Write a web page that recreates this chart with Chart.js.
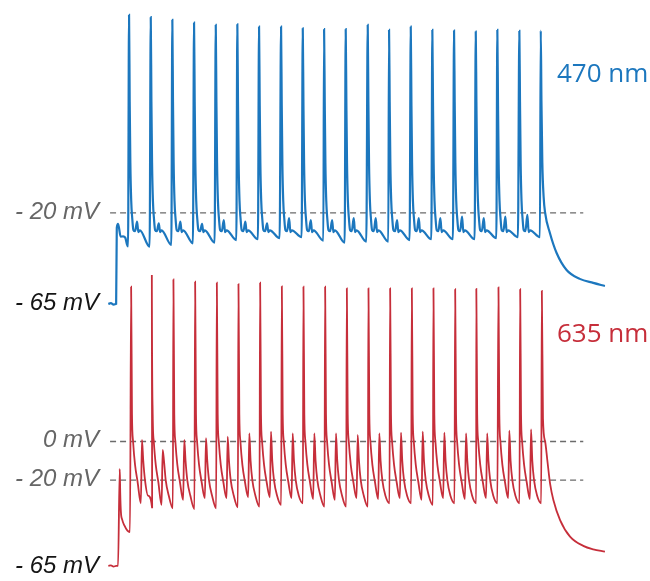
<!DOCTYPE html>
<html>
<head>
<meta charset="utf-8">
<title>470 nm / 635 nm spike trains</title>
<script src="https://cdn.jsdelivr.net/npm/chart.js@4/dist/chart.umd.min.js"></script>
<style>
  html, body { margin: 0; padding: 0; background: #fff; }
  #wrap { width: 650px; height: 581px; position: relative; }
</style>
</head>
<body>
<div id="wrap"><canvas id="chart"></canvas></div>
<script>
// ------------------ Data --------------------
// time in ms from light onset, membrane potential in mV

var traceNames = ["470 nm", "635 nm"];

// 470 nm
var blueOnsetTimes  = [-18, -12, -6, 0, 1.5, 4.5, 10.5, 16, 21, 25, 27.5];
var blueOnsetValues = [-65, -64.6, -65.3, -65, -27.4, -25.4, -31.7, -31.6, -32.2, -35.5, -36.6];
var blueSpikeTimes = [29.8, 79.9, 129.7, 179.8, 229.9, 279.7, 329.8, 380.6, 430.7, 479.9,
                      529.8, 580.6, 629.8, 679.9, 729.7, 779.8, 829.9, 879.7, 930.5, 979.9];
var bluePeaks = [77.9, 76.8, 75.5, 74.1, 73.0, 73.3, 72.1, 72.1, 71.3, 70.9,
                 70.9, 73.0, 70.5, 72.1, 70.5, 70.2, 69.7, 70.5, 70.0, 70.2];
var blueBumps = [-24.3, -25.1, -24.3, -25.4, -23.5, -24.3, -25.1, -22.6, -23.5, -23.5,
                 -22.6, -22.6, -23.5, -22.6, -22.6, -21.8, -22.6, -21.8, -21.0];
var blueTroughs = [-36.7, -35.8, -35.0, -34.7, -33.4, -33.0, -32.5, -32.0, -33.7, -34.7,
                   -34.2, -34.2, -33.4, -33.0, -33.0, -33.0, -32.5, -32.0, -32.0];
var blueTailTimes  = [981.5, 983.5, 986.5, 990, 1001, 1016.5, 1039.5, 1070, 1101, 1128];
var blueTailValues = [35, 5, -12, -20, -29.9, -39.8, -48.2, -52.6, -54.6, -56.1];

// 635 nm
var redOnsetTimes  = [-18, -12, -6, 0, 4.4, 8.3, 9.5, 11, 14, 19, 26, 32];
var redOnsetValues = [-64.5, -64.2, -64.8, -64.5, -64.5, -14.2, -27, -36.5, -40.5, -43.5, -46.2, -46.9];
var redSpikeTimes = [34.6, 82.4, 132.2, 182.3, 232.4, 282.3, 332.3, 382.4, 432.3, 482.3,
                     532.4, 582.3, 632.3, 682.4, 732.3, 782.4, 831.2, 882.3, 932.4, 982.4];
var redPeaks = [80.2, 86.3, 84.0, 82.8, 82.3, 81.6, 82.3, 80.4, 80.2, 80.2,
                79.4, 79.4, 79.4, 79.4, 79.4, 78.9, 79.1, 79.9, 78.9, 78.1];
var redMinis = [0.8, -4.4, 0.8, 1.7, 2.5, 4.2, 5.1, 4.2, 4.2, 4.2,
                3.4, 4.2, 4.6, 5.1, 4.6, 4.2, 4.2, 5.6, 6.3];
var redTroughsA = [-32.0, -32.9, -30.3, -29.4, -29.4, -28.9, -28.9, -29.4, -29.9, -30.3,
                   -29.4, -29.9, -29.4, -30.3, -29.4, -29.9, -29.4, -29.4, -29.9];
var redTroughsB = [-34.6, -34.6, -35.1, -34.6, -34.1, -33.8, -32.9, -32.0, -33.8, -33.8,
                   -33.8, -32.0, -32.0, -32.9, -32.0, -32.0, -32.0, -32.0, -32.0];
var redTailTimes  = [985, 990, 995, 1001.5, 1009, 1024.5, 1047.5, 1078, 1101, 1128];
var redTailValues = [12, 0, -9.6, -22, -30.3, -40.7, -49.3, -54.1, -55.9, -57.1];

// level marks
var blueLevels = [-20, -65];
var blueLevelLabels = ["- 20 mV", "- 65 mV"];
var redLevels = [0, -20, -65];
var redLevelLabels = ["0 mV", "- 20 mV", "- 65 mV"];
var dashFrom = -14, dashTo = 1078;


// ----- build traces ------

var blueColor = "rgb(28, 119, 190)";
var redColor = "rgb(198, 46, 58)";

function pairs(times, values) {
  var out = [];
  for (var i = 0; i < times.length; i++) out.push({x: times[i], y: values[i]});
  return out;
}

function blueTrace() {
  var pts = pairs(blueOnsetTimes, blueOnsetValues);
  for (var i = 0; i < blueSpikeTimes.length; i++) {
    var t = blueSpikeTimes[i];
    pts.push({x: t, y: bluePeaks[i]});
    if (i == blueSpikeTimes.length - 1) {
      pts = pts.concat(pairs(blueTailTimes, blueTailValues));
      break;
    }
    // decay, small bump, slow sag to next spike
    pts.push({x: t + 1.5, y: 35});
    pts.push({x: t + 3, y: 5});
    pts.push({x: t + 5, y: -14});
    pts.push({x: t + 7.5, y: -23});
    pts.push({x: t + 10, y: -28.4});
    pts.push({x: t + 14, y: -29});
    pts.push({x: t + 18.5, y: blueBumps[i]});
    pts.push({x: t + 21.5, y: -29.5});
    pts.push({x: t + 25, y: -28.6});
    pts.push({x: t + 47.5, y: blueTroughs[i]});
  }
  return pts;
}

function redTrace() {
  var pts = pairs(redOnsetTimes, redOnsetValues);
  for (var i = 0; i < redSpikeTimes.length; i++) {
    var t = redSpikeTimes[i];
    pts.push({x: t, y: redPeaks[i]});
    if (i == redSpikeTimes.length - 1) {
      pts = pts.concat(pairs(redTailTimes, redTailValues));
      break;
    }
    pts.push({x: t + 2, y: 14});
    pts.push({x: t + 4.5, y: 0});
    pts.push({x: t + 9, y: -12});
    pts.push({x: t + 15, y: -21});
    pts.push({x: t + 22.5, y: redTroughsA[i]});
    pts.push({x: t + 25, y: redMinis[i]});
    pts.push({x: t + 28, y: -10});
    pts.push({x: t + 32, y: -20});
    pts.push({x: t + 39, y: -28});
    pts.push({x: t + 48.5, y: redTroughsB[i]});
  }
  return pts;
}

function dashLine(level, axis) {
  return {
    data: [{x: dashFrom, y: level}, {x: dashTo, y: level}],
    yAxisID: axis,
    borderColor: "#6b6b6b",
    borderWidth: 1.3,
    borderDash: [6, 4],
    order: 2
  };
}

// ----- labels ------

var levelLabels = {
  id: "levelLabels",
  afterDatasetsDraw: function(chart) {
    var ctx = chart.ctx;
    ctx.save();
    ctx.font = 'italic 24px "Liberation Sans", Arial, sans-serif';
    ctx.textAlign = "right";
    ctx.textBaseline = "middle";
    function draw(levels, labels, scale) {
      for (var i = 0; i < levels.length; i++) {
        ctx.fillStyle = levels[i] == -65 ? "#151515" : "#666666";
        ctx.fillText(labels[i], 99, scale.getPixelForValue(levels[i]) - 1);
      }
    }
    draw(blueLevels, blueLevelLabels, chart.scales.yB);
    draw(redLevels, redLevelLabels, chart.scales.yR);

    ctx.font = '26px "Open Sans", sans-serif';
    ctx.textAlign = "left";
    ctx.textBaseline = "alphabetic";
    ctx.fillStyle = blueColor;
    ctx.fillText(traceNames[0], 557, 82);
    ctx.fillStyle = redColor;
    ctx.fillText(traceNames[1], 557, 342);
    ctx.restore();
  }
};


// ----- INIT ------

var ctx = document.getElementById("chart").getContext("2d");

var chart = new Chart(ctx, {
  type: "line",
  data: {
    datasets: [
      {
        label: traceNames[0],
        data: blueTrace(),
        yAxisID: "yB",
        borderColor: blueColor,
        borderWidth: 2.2,
        cubicInterpolationMode: "monotone",
        order: 1
      },
      {
        label: traceNames[1],
        data: redTrace(),
        yAxisID: "yR",
        borderColor: redColor,
        borderWidth: 1.8,
        cubicInterpolationMode: "monotone",
        order: 1
      },
      dashLine(-20, "yB"),
      dashLine(0, "yR"),
      dashLine(-20, "yR")
    ]
  },
  options: {
    responsive: true,
    maintainAspectRatio: false,
    animation: false,
    layout: { padding: 0 },
    elements: { point: { radius: 0 } },
    plugins: {
      legend: { display: false },
      tooltip: { enabled: false }
    },
    scales: {
      x: { type: "linear", min: -268, max: 1232, display: false },
      yB: { type: "linear", min: -202, max: 85.3, display: false },
      yR: { type: "linear", min: -72.3, max: 228.8, display: false }
    }
  },
  plugins: [levelLabels]
});
</script>
</body>
</html>
